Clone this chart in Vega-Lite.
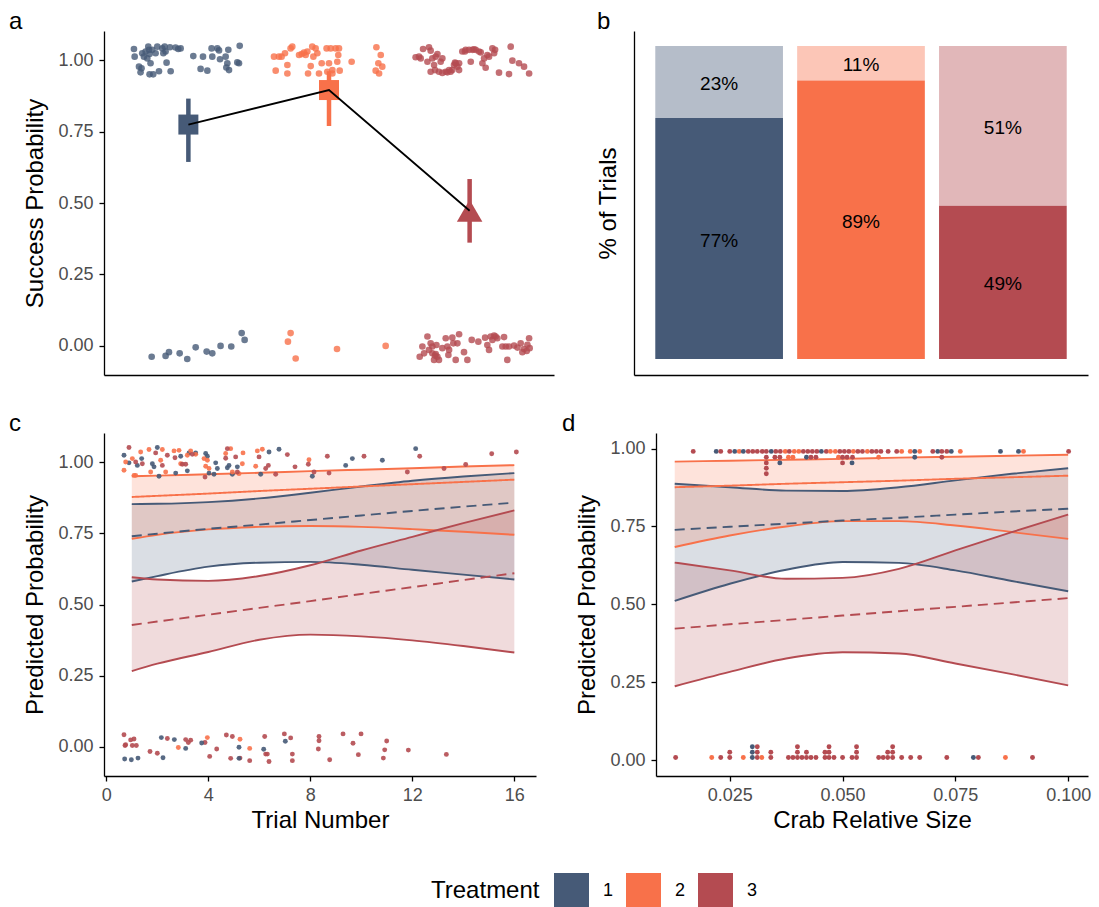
{
"$schema": "https://vega.github.io/schema/vega-lite/v6.json",
"padding": {"left": 9, "top": 10, "right": 5, "bottom": 0},
"config": {
  "font": "Liberation Sans",
  "view": {"stroke": null},
  "axis": {"grid": false, "domainColor": "black", "domainWidth": 1.3, "tickColor": "black", "tickWidth": 1.3, "tickSize": 5, "labelColor": "#4D4D4D", "labelFontSize": 18, "labelFont": "Liberation Sans", "labelPadding": 6, "titleFont": "Liberation Sans", "titleFontSize": 24, "titleFontWeight": "normal", "titleColor": "black", "titlePadding": 10},
  "axisX": {"titlePadding": 4, "labelPadding": 5},
  "title": {"fontSize": 24, "fontWeight": "normal", "anchor": "start", "frame": "group", "offset": 4, "dy": 7, "font": "Liberation Sans", "color": "black"}
},
"datasets": {
"pa": [
{"Treatment":1,"x":0.613,"y":1.040},{"Treatment":1,"x":0.618,"y":1.013},{"Treatment":1,"x":0.660,"y":0.958},{"Treatment":1,"x":0.667,"y":0.972},{"Treatment":1,"x":0.684,"y":1.013},{"Treatment":1,"x":0.696,"y":1.031},{"Treatment":1,"x":0.715,"y":1.048},{"Treatment":1,"x":0.720,"y":1.037},{"Treatment":1,"x":0.724,"y":1.022},{"Treatment":1,"x":0.731,"y":0.990},{"Treatment":1,"x":0.724,"y":0.951},{"Treatment":1,"x":0.750,"y":0.951},{"Treatment":1,"x":0.743,"y":1.037},{"Treatment":1,"x":0.791,"y":0.962},{"Treatment":1,"x":0.815,"y":1.042},{"Treatment":1,"x":0.822,"y":1.025},{"Treatment":1,"x":0.831,"y":1.048},{"Treatment":1,"x":0.845,"y":0.992},{"Treatment":1,"x":0.869,"y":1.046},{"Treatment":1,"x":0.874,"y":0.962},{"Treatment":1,"x":0.909,"y":1.045},{"Treatment":1,"x":0.928,"y":1.040},{"Treatment":1,"x":1.035,"y":1.015},{"Treatment":1,"x":1.087,"y":0.970},{"Treatment":1,"x":1.104,"y":1.013},{"Treatment":1,"x":1.135,"y":0.964},{"Treatment":1,"x":1.165,"y":1.042},{"Treatment":1,"x":1.170,"y":1.013},{"Treatment":1,"x":1.206,"y":1.042},{"Treatment":1,"x":1.225,"y":1.004},{"Treatment":1,"x":1.265,"y":1.013},{"Treatment":1,"x":1.277,"y":0.990},{"Treatment":1,"x":1.284,"y":1.037},{"Treatment":1,"x":1.289,"y":0.966},{"Treatment":1,"x":1.270,"y":0.975},{"Treatment":1,"x":1.348,"y":0.993},{"Treatment":1,"x":1.365,"y":1.051},{"Treatment":1,"x":1.360,"y":0.990},{"Treatment":1,"x":1.218,"y":1.035},{"Treatment":1,"x":0.767,"y":1.025},{"Treatment":1,"x":0.649,"y":0.978},{"Treatment":1,"x":0.672,"y":1.025},{"Treatment":1,"x":0.708,"y":1.007},{"Treatment":1,"x":0.838,"y":1.031},{"Treatment":1,"x":0.945,"y":1.042},{"Treatment":1,"x":0.779,"y":1.048},
{"Treatment":1,"x":0.739,"y":-0.039},{"Treatment":1,"x":0.838,"y":-0.036},{"Treatment":1,"x":0.862,"y":-0.023},{"Treatment":1,"x":0.938,"y":-0.027},{"Treatment":1,"x":0.992,"y":-0.047},{"Treatment":1,"x":1.052,"y":-0.006},{"Treatment":1,"x":1.130,"y":-0.021},{"Treatment":1,"x":1.170,"y":-0.027},{"Treatment":1,"x":1.229,"y":-0.001},{"Treatment":1,"x":1.305,"y":-0.003},{"Treatment":1,"x":1.379,"y":0.044},{"Treatment":1,"x":1.400,"y":0.020},
{"Treatment":2,"x":1.609,"y":1.013},{"Treatment":2,"x":1.621,"y":0.964},{"Treatment":2,"x":1.644,"y":1.013},{"Treatment":2,"x":1.663,"y":1.013},{"Treatment":2,"x":1.687,"y":1.025},{"Treatment":2,"x":1.704,"y":0.984},{"Treatment":2,"x":1.704,"y":0.954},{"Treatment":2,"x":1.727,"y":1.042},{"Treatment":2,"x":1.739,"y":1.048},{"Treatment":2,"x":1.806,"y":1.022},{"Treatment":2,"x":1.822,"y":1.027},{"Treatment":2,"x":1.834,"y":1.019},{"Treatment":2,"x":1.846,"y":1.031},{"Treatment":2,"x":1.851,"y":0.954},{"Treatment":2,"x":1.870,"y":0.980},{"Treatment":2,"x":1.881,"y":1.048},{"Treatment":2,"x":1.889,"y":1.013},{"Treatment":2,"x":1.917,"y":1.025},{"Treatment":2,"x":1.929,"y":0.954},{"Treatment":2,"x":1.948,"y":0.990},{"Treatment":2,"x":1.983,"y":1.042},{"Treatment":2,"x":1.988,"y":0.960},{"Treatment":2,"x":2.000,"y":0.990},{"Treatment":2,"x":2.012,"y":1.042},{"Treatment":2,"x":2.024,"y":0.954},{"Treatment":2,"x":2.047,"y":1.042},{"Treatment":2,"x":2.059,"y":0.995},{"Treatment":2,"x":2.066,"y":1.019},{"Treatment":2,"x":2.071,"y":1.042},{"Treatment":2,"x":2.076,"y":0.964},{"Treatment":2,"x":2.161,"y":0.995},{"Treatment":2,"x":2.337,"y":1.046},{"Treatment":2,"x":2.368,"y":1.019},{"Treatment":2,"x":2.351,"y":0.990},{"Treatment":2,"x":2.379,"y":0.978},{"Treatment":2,"x":2.332,"y":0.964},{"Treatment":2,"x":2.356,"y":0.954},{"Treatment":2,"x":2.024,"y":0.966},{"Treatment":2,"x":1.905,"y":1.042},{"Treatment":2,"x":1.787,"y":1.019},
{"Treatment":2,"x":1.727,"y":0.044},{"Treatment":2,"x":1.708,"y":0.014},{"Treatment":2,"x":1.763,"y":-0.045},{"Treatment":2,"x":2.057,"y":-0.012},{"Treatment":2,"x":2.403,"y":-0.001},
{"Treatment":3,"x":2.616,"y":1.011},{"Treatment":3,"x":2.652,"y":1.007},{"Treatment":3,"x":2.669,"y":1.040},{"Treatment":3,"x":2.711,"y":1.046},{"Treatment":3,"x":2.723,"y":1.034},{"Treatment":3,"x":2.700,"y":0.995},{"Treatment":3,"x":2.723,"y":0.960},{"Treatment":3,"x":2.747,"y":0.984},{"Treatment":3,"x":2.771,"y":1.022},{"Treatment":3,"x":2.782,"y":0.960},{"Treatment":3,"x":2.806,"y":1.007},{"Treatment":3,"x":2.830,"y":0.960},{"Treatment":3,"x":2.842,"y":0.958},{"Treatment":3,"x":2.877,"y":0.966},{"Treatment":3,"x":2.889,"y":0.984},{"Treatment":3,"x":2.901,"y":0.990},{"Treatment":3,"x":2.925,"y":0.990},{"Treatment":3,"x":2.925,"y":0.966},{"Treatment":3,"x":2.948,"y":1.031},{"Treatment":3,"x":2.972,"y":1.037},{"Treatment":3,"x":2.996,"y":1.037},{"Treatment":3,"x":3.008,"y":0.995},{"Treatment":3,"x":3.020,"y":1.037},{"Treatment":3,"x":3.043,"y":1.037},{"Treatment":3,"x":3.067,"y":1.031},{"Treatment":3,"x":3.091,"y":0.990},{"Treatment":3,"x":3.103,"y":1.007},{"Treatment":3,"x":3.114,"y":0.974},{"Treatment":3,"x":3.126,"y":1.019},{"Treatment":3,"x":3.162,"y":1.042},{"Treatment":3,"x":3.174,"y":1.025},{"Treatment":3,"x":3.209,"y":0.957},{"Treatment":3,"x":3.280,"y":0.952},{"Treatment":3,"x":3.292,"y":1.048},{"Treatment":3,"x":3.304,"y":0.999},{"Treatment":3,"x":3.351,"y":0.990},{"Treatment":3,"x":3.387,"y":0.978},{"Treatment":3,"x":3.423,"y":0.954},{"Treatment":3,"x":2.759,"y":1.013},{"Treatment":3,"x":2.854,"y":0.966},{"Treatment":3,"x":2.913,"y":0.978},{"Treatment":3,"x":3.031,"y":1.039},{"Treatment":3,"x":2.640,"y":1.013},{"Treatment":3,"x":2.735,"y":1.007},{"Treatment":3,"x":2.806,"y":0.956},{"Treatment":3,"x":3.079,"y":1.028},{"Treatment":3,"x":3.138,"y":1.013},{"Treatment":3,"x":2.754,"y":0.966},{"Treatment":3,"x":2.794,"y":0.995},{"Treatment":3,"x":2.865,"y":0.960},{"Treatment":3,"x":2.896,"y":0.992},{"Treatment":3,"x":2.967,"y":1.031},{"Treatment":3,"x":3.181,"y":1.037},
{"Treatment":3,"x":2.645,"y":-0.039},{"Treatment":3,"x":2.664,"y":-0.003},{"Treatment":3,"x":2.700,"y":0.032},{"Treatment":3,"x":2.723,"y":0.008},{"Treatment":3,"x":2.735,"y":-0.027},{"Treatment":3,"x":2.747,"y":-0.050},{"Treatment":3,"x":2.759,"y":-0.030},{"Treatment":3,"x":2.771,"y":-0.039},{"Treatment":3,"x":2.782,"y":-0.050},{"Treatment":3,"x":2.830,"y":0.026},{"Treatment":3,"x":2.842,"y":-0.003},{"Treatment":3,"x":2.849,"y":-0.033},{"Treatment":3,"x":2.877,"y":0.028},{"Treatment":3,"x":2.901,"y":-0.050},{"Treatment":3,"x":2.913,"y":0.008},{"Treatment":3,"x":2.925,"y":0.040},{"Treatment":3,"x":2.960,"y":-0.023},{"Treatment":3,"x":2.984,"y":-0.050},{"Treatment":3,"x":3.062,"y":0.014},{"Treatment":3,"x":3.110,"y":0.028},{"Treatment":3,"x":3.126,"y":0.002},{"Treatment":3,"x":3.138,"y":-0.015},{"Treatment":3,"x":3.150,"y":0.032},{"Treatment":3,"x":3.162,"y":0.020},{"Treatment":3,"x":3.174,"y":0.035},{"Treatment":3,"x":3.185,"y":0.032},{"Treatment":3,"x":3.197,"y":0.026},{"Treatment":3,"x":3.245,"y":0.030},{"Treatment":3,"x":3.257,"y":-0.003},{"Treatment":3,"x":3.268,"y":-0.050},{"Treatment":3,"x":3.280,"y":-0.003},{"Treatment":3,"x":3.316,"y":0.000},{"Treatment":3,"x":3.363,"y":0.008},{"Treatment":3,"x":3.375,"y":-0.023},{"Treatment":3,"x":3.387,"y":-0.012},{"Treatment":3,"x":3.411,"y":0.003},{"Treatment":3,"x":3.423,"y":0.026},{"Treatment":3,"x":3.427,"y":-0.009},{"Treatment":3,"x":2.711,"y":-0.015},{"Treatment":3,"x":2.735,"y":-0.003},{"Treatment":3,"x":2.754,"y":-0.035},{"Treatment":3,"x":2.806,"y":-0.009},{"Treatment":3,"x":2.854,"y":-0.015},{"Treatment":3,"x":2.884,"y":0.008},{"Treatment":3,"x":3.015,"y":0.020},{"Treatment":3,"x":3.233,"y":-0.003},{"Treatment":3,"x":3.340,"y":-0.007},{"Treatment":3,"x":3.406,"y":-0.019},{"Treatment":3,"x":2.676,"y":-0.027},{"Treatment":3,"x":2.764,"y":0.002}
],
"est": [
{"Treatment":1,"x":1,"est":0.775,"lo":0.644,"hi":0.866},
{"Treatment":2,"x":2,"est":0.896,"lo":0.770,"hi":0.962},
{"Treatment":3,"x":3,"est":0.473,"lo":0.361,"hi":0.584}
],
"pb": [
{"Treatment":1,"outcome":"Success","ord":1,"pct":0.77,"lab":"77%"},
{"Treatment":1,"outcome":"Failure","ord":2,"pct":0.23,"lab":"23%"},
{"Treatment":2,"outcome":"Success","ord":1,"pct":0.89,"lab":"89%"},
{"Treatment":2,"outcome":"Failure","ord":2,"pct":0.11,"lab":"11%"},
{"Treatment":3,"outcome":"Success","ord":1,"pct":0.49,"lab":"49%"},
{"Treatment":3,"outcome":"Failure","ord":2,"pct":0.51,"lab":"51%"}
],
"cc": [
{"Treatment":1,"x":1,"lo":0.581,"mean":0.740,"hi":0.853},{"Treatment":1,"x":2,"lo":0.600,"mean":0.749,"hi":0.854},{"Treatment":1,"x":4,"lo":0.633,"mean":0.766,"hi":0.860},{"Treatment":1,"x":6,"lo":0.647,"mean":0.781,"hi":0.873},{"Treatment":1,"x":8,"lo":0.650,"mean":0.797,"hi":0.893},{"Treatment":1,"x":10,"lo":0.640,"mean":0.813,"hi":0.915},{"Treatment":1,"x":12,"lo":0.622,"mean":0.829,"hi":0.935},{"Treatment":1,"x":14,"lo":0.605,"mean":0.844,"hi":0.950},{"Treatment":1,"x":16,"lo":0.588,"mean":0.858,"hi":0.962},
{"Treatment":2,"x":1,"lo":0.731,"mean":0.878,"hi":0.951},{"Treatment":2,"x":2,"lo":0.745,"mean":0.882,"hi":0.953},{"Treatment":2,"x":4,"lo":0.764,"mean":0.890,"hi":0.958},{"Treatment":2,"x":6,"lo":0.773,"mean":0.899,"hi":0.963},{"Treatment":2,"x":8,"lo":0.776,"mean":0.907,"hi":0.969},{"Treatment":2,"x":10,"lo":0.773,"mean":0.915,"hi":0.974},{"Treatment":2,"x":12,"lo":0.765,"mean":0.923,"hi":0.979},{"Treatment":2,"x":14,"lo":0.756,"mean":0.931,"hi":0.985},{"Treatment":2,"x":16,"lo":0.745,"mean":0.939,"hi":0.990},
{"Treatment":3,"x":1,"lo":0.266,"mean":0.428,"hi":0.596},{"Treatment":3,"x":2,"lo":0.292,"mean":0.440,"hi":0.588},{"Treatment":3,"x":4,"lo":0.333,"mean":0.464,"hi":0.583},{"Treatment":3,"x":6,"lo":0.376,"mean":0.488,"hi":0.600},{"Treatment":3,"x":8,"lo":0.394,"mean":0.512,"hi":0.638},{"Treatment":3,"x":10,"lo":0.388,"mean":0.537,"hi":0.690},{"Treatment":3,"x":12,"lo":0.374,"mean":0.561,"hi":0.738},{"Treatment":3,"x":14,"lo":0.354,"mean":0.586,"hi":0.786},{"Treatment":3,"x":16,"lo":0.331,"mean":0.610,"hi":0.831}
],
"pc": [
{"Treatment":1,"x":0.694,"y":1.025},{"Treatment":1,"x":0.890,"y":0.998},{"Treatment":1,"x":1.217,"y":0.989},{"Treatment":1,"x":1.387,"y":1.013},{"Treatment":1,"x":1.806,"y":0.995},{"Treatment":1,"x":2.001,"y":1.052},{"Treatment":1,"x":1.871,"y":0.984},{"Treatment":1,"x":2.067,"y":0.951},{"Treatment":1,"x":2.721,"y":0.962},{"Treatment":1,"x":2.917,"y":1.021},{"Treatment":1,"x":3.178,"y":0.970},{"Treatment":1,"x":3.243,"y":1.033},{"Treatment":1,"x":3.505,"y":1.033},{"Treatment":1,"x":3.897,"y":1.031},{"Treatment":1,"x":3.963,"y":1.021},{"Treatment":1,"x":4.028,"y":0.962},{"Treatment":1,"x":4.224,"y":0.958},{"Treatment":1,"x":4.289,"y":0.998},{"Treatment":1,"x":4.355,"y":0.978},{"Treatment":1,"x":4.747,"y":0.981},{"Treatment":1,"x":4.812,"y":0.989},{"Treatment":1,"x":4.943,"y":0.958},{"Treatment":1,"x":5.139,"y":0.984},{"Treatment":1,"x":6.054,"y":0.958},{"Treatment":1,"x":6.381,"y":1.036},{"Treatment":1,"x":6.773,"y":1.046},{"Treatment":1,"x":8.080,"y":0.951},{"Treatment":1,"x":9.387,"y":0.989},{"Treatment":1,"x":9.649,"y":1.013},{"Treatment":1,"x":10.825,"y":1.007},{"Treatment":1,"x":12.132,"y":1.048},
{"Treatment":2,"x":0.694,"y":0.972},{"Treatment":2,"x":0.760,"y":1.001},{"Treatment":2,"x":1.021,"y":1.013},{"Treatment":2,"x":1.087,"y":0.954},{"Treatment":2,"x":1.152,"y":0.954},{"Treatment":2,"x":1.348,"y":1.036},{"Treatment":2,"x":1.675,"y":1.045},{"Treatment":2,"x":1.740,"y":0.966},{"Treatment":2,"x":2.132,"y":1.007},{"Treatment":2,"x":2.198,"y":1.045},{"Treatment":2,"x":2.328,"y":0.966},{"Treatment":2,"x":2.655,"y":1.040},{"Treatment":2,"x":2.851,"y":1.042},{"Treatment":2,"x":2.917,"y":0.995},{"Treatment":2,"x":3.178,"y":1.025},{"Treatment":2,"x":3.309,"y":1.040},{"Treatment":2,"x":3.505,"y":1.028},{"Treatment":2,"x":3.832,"y":1.013},{"Treatment":2,"x":3.897,"y":0.986},{"Treatment":2,"x":3.963,"y":1.007},{"Treatment":2,"x":4.028,"y":0.978},{"Treatment":2,"x":4.681,"y":1.031},{"Treatment":2,"x":4.877,"y":1.048},{"Treatment":2,"x":4.943,"y":0.966},{"Treatment":2,"x":5.204,"y":0.960},{"Treatment":2,"x":5.335,"y":0.995},{"Treatment":2,"x":5.361,"y":1.033},{"Treatment":2,"x":5.858,"y":0.986},{"Treatment":2,"x":5.923,"y":1.040},{"Treatment":2,"x":6.119,"y":1.046},{"Treatment":2,"x":7.949,"y":1.009},
{"Treatment":3,"x":0.890,"y":1.052},{"Treatment":3,"x":1.152,"y":1.001},{"Treatment":3,"x":1.413,"y":0.995},{"Treatment":3,"x":1.936,"y":1.033},{"Treatment":3,"x":2.198,"y":0.989},{"Treatment":3,"x":2.394,"y":1.025},{"Treatment":3,"x":2.694,"y":1.016},{"Treatment":3,"x":2.982,"y":0.993},{"Treatment":3,"x":3.113,"y":0.993},{"Treatment":3,"x":3.374,"y":1.028},{"Treatment":3,"x":3.871,"y":0.948},{"Treatment":3,"x":4.681,"y":1.014},{"Treatment":3,"x":4.747,"y":1.048},{"Treatment":3,"x":5.073,"y":1.019},{"Treatment":3,"x":5.139,"y":0.966},{"Treatment":3,"x":5.989,"y":1.019},{"Treatment":3,"x":6.250,"y":0.978},{"Treatment":3,"x":6.355,"y":0.989},{"Treatment":3,"x":6.642,"y":0.958},{"Treatment":3,"x":7.100,"y":1.027},{"Treatment":3,"x":7.400,"y":0.984},{"Treatment":3,"x":7.923,"y":0.993},{"Treatment":3,"x":8.146,"y":0.966},{"Treatment":3,"x":8.668,"y":1.021},{"Treatment":3,"x":8.734,"y":0.962},{"Treatment":3,"x":10.106,"y":1.021},{"Treatment":3,"x":11.805,"y":0.966},{"Treatment":3,"x":12.289,"y":1.021},{"Treatment":3,"x":13.243,"y":0.978},{"Treatment":3,"x":14.093,"y":0.992},{"Treatment":3,"x":15.113,"y":1.030},{"Treatment":3,"x":16.080,"y":1.036},
{"Treatment":3,"x":0.694,"y":0.042},{"Treatment":3,"x":0.734,"y":0.004},{"Treatment":3,"x":0.760,"y":0.007},{"Treatment":3,"x":0.956,"y":0.024},{"Treatment":3,"x":1.087,"y":0.027},{"Treatment":3,"x":1.021,"y":0.004},{"Treatment":3,"x":1.178,"y":0.004},{"Treatment":3,"x":1.714,"y":-0.017},{"Treatment":3,"x":2.001,"y":-0.023},{"Treatment":3,"x":2.394,"y":0.029},{"Treatment":3,"x":3.113,"y":0.025},{"Treatment":3,"x":3.217,"y":0.015},{"Treatment":3,"x":3.309,"y":0.023},{"Treatment":3,"x":3.871,"y":0.015},{"Treatment":3,"x":4.054,"y":-0.034},{"Treatment":3,"x":4.329,"y":-0.008},{"Treatment":3,"x":4.708,"y":0.041},{"Treatment":3,"x":4.877,"y":-0.041},{"Treatment":3,"x":4.943,"y":0.036},{"Treatment":3,"x":5.243,"y":-0.040},{"Treatment":3,"x":5.623,"y":-0.049},{"Treatment":3,"x":6.211,"y":0.036},{"Treatment":3,"x":6.250,"y":-0.026},{"Treatment":3,"x":6.315,"y":-0.026},{"Treatment":3,"x":6.381,"y":-0.052},{"Treatment":3,"x":6.982,"y":0.045},{"Treatment":3,"x":7.230,"y":0.031},{"Treatment":3,"x":7.296,"y":-0.026},{"Treatment":3,"x":7.296,"y":-0.049},{"Treatment":3,"x":8.315,"y":-0.008},{"Treatment":3,"x":8.341,"y":0.036},{"Treatment":3,"x":8.341,"y":0.021},{"Treatment":3,"x":8.760,"y":-0.046},{"Treatment":3,"x":9.283,"y":0.045},{"Treatment":3,"x":9.675,"y":0.012},{"Treatment":3,"x":9.884,"y":-0.028},{"Treatment":3,"x":9.989,"y":0.045},{"Treatment":3,"x":10.864,"y":-0.040},{"Treatment":3,"x":10.917,"y":-0.011},{"Treatment":3,"x":10.995,"y":0.020},{"Treatment":3,"x":11.845,"y":-0.012},{"Treatment":3,"x":13.335,"y":-0.027},
{"Treatment":1,"x":0.721,"y":-0.043},{"Treatment":1,"x":0.982,"y":-0.046},{"Treatment":1,"x":1.243,"y":-0.040},{"Treatment":1,"x":2.158,"y":0.032},{"Treatment":1,"x":2.224,"y":-0.039},{"Treatment":1,"x":2.668,"y":0.025},{"Treatment":1,"x":3.113,"y":-0.006},{"Treatment":1,"x":3.740,"y":0.013},{"Treatment":1,"x":5.204,"y":-0.002},{"Treatment":1,"x":5.204,"y":-0.041},{"Treatment":1,"x":6.172,"y":-0.009},{"Treatment":1,"x":7.021,"y":0.019},
{"Treatment":2,"x":2.825,"y":-0.003},{"Treatment":2,"x":3.963,"y":0.032},{"Treatment":2,"x":5.243,"y":0.026},{"Treatment":2,"x":5.623,"y":-0.006}
],
"cd": [
{"Treatment":1,"x":0.0128,"lo":0.511,"mean":0.739,"hi":0.887},{"Treatment":1,"x":0.025,"lo":0.566,"mean":0.749,"hi":0.876},{"Treatment":1,"x":0.0375,"lo":0.611,"mean":0.759,"hi":0.865},{"Treatment":1,"x":0.05,"lo":0.636,"mean":0.769,"hi":0.864},{"Treatment":1,"x":0.0625,"lo":0.633,"mean":0.778,"hi":0.876},{"Treatment":1,"x":0.075,"lo":0.609,"mean":0.788,"hi":0.898},{"Treatment":1,"x":0.0875,"lo":0.575,"mean":0.798,"hi":0.919},{"Treatment":1,"x":0.1,"lo":0.542,"mean":0.807,"hi":0.937},
{"Treatment":2,"x":0.0128,"lo":0.684,"mean":0.876,"hi":0.958},{"Treatment":2,"x":0.025,"lo":0.721,"mean":0.881,"hi":0.961},{"Treatment":2,"x":0.0375,"lo":0.750,"mean":0.887,"hi":0.964},{"Treatment":2,"x":0.05,"lo":0.767,"mean":0.892,"hi":0.967},{"Treatment":2,"x":0.0625,"lo":0.767,"mean":0.897,"hi":0.971},{"Treatment":2,"x":0.075,"lo":0.753,"mean":0.903,"hi":0.974},{"Treatment":2,"x":0.0875,"lo":0.732,"mean":0.908,"hi":0.977},{"Treatment":2,"x":0.1,"lo":0.710,"mean":0.913,"hi":0.980},
{"Treatment":3,"x":0.0128,"lo":0.237,"mean":0.422,"hi":0.634},{"Treatment":3,"x":0.025,"lo":0.283,"mean":0.436,"hi":0.609},{"Treatment":3,"x":0.0375,"lo":0.326,"mean":0.450,"hi":0.582},{"Treatment":3,"x":0.05,"lo":0.346,"mean":0.464,"hi":0.585},{"Treatment":3,"x":0.0625,"lo":0.342,"mean":0.478,"hi":0.614},{"Treatment":3,"x":0.075,"lo":0.310,"mean":0.492,"hi":0.673},{"Treatment":3,"x":0.0875,"lo":0.276,"mean":0.506,"hi":0.732},{"Treatment":3,"x":0.1,"lo":0.240,"mean":0.520,"hi":0.788}
],
"pd": [
{"Treatment":3,"x":0.0169,"y":0.991},{"Treatment":1,"x":0.0220,"y":0.991},{"Treatment":3,"x":0.0230,"y":0.991},{"Treatment":3,"x":0.0250,"y":0.991},{"Treatment":1,"x":0.0261,"y":0.991},{"Treatment":2,"x":0.0271,"y":0.991},{"Treatment":1,"x":0.0280,"y":0.991},{"Treatment":3,"x":0.0291,"y":0.991},{"Treatment":3,"x":0.0301,"y":0.991},{"Treatment":3,"x":0.0311,"y":0.991},{"Treatment":3,"x":0.0322,"y":0.991},{"Treatment":3,"x":0.0331,"y":0.991},{"Treatment":1,"x":0.0342,"y":0.991},{"Treatment":3,"x":0.0352,"y":0.991},{"Treatment":3,"x":0.0362,"y":0.991},{"Treatment":2,"x":0.0373,"y":0.991},{"Treatment":3,"x":0.0382,"y":0.991},{"Treatment":2,"x":0.0393,"y":0.991},{"Treatment":2,"x":0.0403,"y":0.991},{"Treatment":3,"x":0.0413,"y":0.991},{"Treatment":3,"x":0.0423,"y":0.991},{"Treatment":3,"x":0.0433,"y":0.991},{"Treatment":3,"x":0.0443,"y":0.991},{"Treatment":1,"x":0.0453,"y":0.991},{"Treatment":3,"x":0.0464,"y":0.991},{"Treatment":2,"x":0.0473,"y":0.991},{"Treatment":2,"x":0.0484,"y":0.991},{"Treatment":3,"x":0.0494,"y":0.991},{"Treatment":3,"x":0.0504,"y":0.991},{"Treatment":3,"x":0.0514,"y":0.991},{"Treatment":2,"x":0.0524,"y":0.991},{"Treatment":3,"x":0.0534,"y":0.991},{"Treatment":3,"x":0.0544,"y":0.991},{"Treatment":2,"x":0.0555,"y":0.991},{"Treatment":3,"x":0.0565,"y":0.991},{"Treatment":3,"x":0.0575,"y":0.991},{"Treatment":3,"x":0.0585,"y":0.991},{"Treatment":3,"x":0.0601,"y":0.991},{"Treatment":3,"x":0.0620,"y":0.991},{"Treatment":2,"x":0.0631,"y":0.991},{"Treatment":2,"x":0.0650,"y":0.991},{"Treatment":1,"x":0.0660,"y":0.991},{"Treatment":2,"x":0.0671,"y":0.991},{"Treatment":3,"x":0.0700,"y":0.991},{"Treatment":1,"x":0.0711,"y":0.991},{"Treatment":3,"x":0.0720,"y":0.991},{"Treatment":3,"x":0.0731,"y":0.991},{"Treatment":1,"x":0.0741,"y":0.991},{"Treatment":2,"x":0.0761,"y":0.991},{"Treatment":1,"x":0.0850,"y":0.991},{"Treatment":1,"x":0.0890,"y":0.991},{"Treatment":2,"x":0.0901,"y":0.991},{"Treatment":3,"x":0.1001,"y":0.991},
{"Treatment":3,"x":0.0331,"y":0.972},{"Treatment":3,"x":0.0350,"y":0.972},{"Treatment":3,"x":0.0361,"y":0.972},{"Treatment":2,"x":0.0380,"y":0.972},{"Treatment":2,"x":0.0390,"y":0.972},{"Treatment":1,"x":0.0420,"y":0.972},{"Treatment":3,"x":0.0430,"y":0.972},{"Treatment":3,"x":0.0441,"y":0.972},{"Treatment":2,"x":0.0491,"y":0.972},{"Treatment":3,"x":0.0500,"y":0.972},{"Treatment":3,"x":0.0510,"y":0.972},{"Treatment":3,"x":0.0522,"y":0.972},{"Treatment":2,"x":0.0580,"y":0.972},{"Treatment":1,"x":0.0660,"y":0.972},{"Treatment":3,"x":0.0720,"y":0.972},
{"Treatment":3,"x":0.0331,"y":0.954},{"Treatment":1,"x":0.0361,"y":0.954},{"Treatment":3,"x":0.0500,"y":0.954},{"Treatment":1,"x":0.0521,"y":0.954},
{"Treatment":3,"x":0.0331,"y":0.937},{"Treatment":3,"x":0.0331,"y":0.919},
{"Treatment":3,"x":0.0130,"y":0.0085},{"Treatment":2,"x":0.0210,"y":0.0085},{"Treatment":3,"x":0.0230,"y":0.0085},{"Treatment":3,"x":0.0250,"y":0.0085},{"Treatment":2,"x":0.0280,"y":0.0085},{"Treatment":1,"x":0.0300,"y":0.0085},{"Treatment":3,"x":0.0311,"y":0.0085},{"Treatment":2,"x":0.0321,"y":0.0085},{"Treatment":3,"x":0.0341,"y":0.0085},{"Treatment":3,"x":0.0380,"y":0.0085},{"Treatment":3,"x":0.0390,"y":0.0085},{"Treatment":3,"x":0.0400,"y":0.0085},{"Treatment":3,"x":0.0410,"y":0.0085},{"Treatment":3,"x":0.0420,"y":0.0085},{"Treatment":3,"x":0.0430,"y":0.0085},{"Treatment":3,"x":0.0441,"y":0.0085},{"Treatment":3,"x":0.0461,"y":0.0085},{"Treatment":3,"x":0.0470,"y":0.0085},{"Treatment":3,"x":0.0481,"y":0.0085},{"Treatment":3,"x":0.0500,"y":0.0085},{"Treatment":3,"x":0.0521,"y":0.0085},{"Treatment":3,"x":0.0531,"y":0.0085},{"Treatment":3,"x":0.0580,"y":0.0085},{"Treatment":3,"x":0.0590,"y":0.0085},{"Treatment":3,"x":0.0600,"y":0.0085},{"Treatment":3,"x":0.0611,"y":0.0085},{"Treatment":3,"x":0.0631,"y":0.0085},{"Treatment":3,"x":0.0651,"y":0.0085},{"Treatment":3,"x":0.0671,"y":0.0085},{"Treatment":3,"x":0.0731,"y":0.0085},{"Treatment":1,"x":0.0790,"y":0.0085},{"Treatment":3,"x":0.0801,"y":0.0085},{"Treatment":2,"x":0.0861,"y":0.0085},{"Treatment":3,"x":0.0921,"y":0.0085},
{"Treatment":3,"x":0.0250,"y":0.025},{"Treatment":1,"x":0.0300,"y":0.025},{"Treatment":3,"x":0.0311,"y":0.025},{"Treatment":3,"x":0.0341,"y":0.025},{"Treatment":3,"x":0.0400,"y":0.025},{"Treatment":3,"x":0.0420,"y":0.025},{"Treatment":3,"x":0.0461,"y":0.025},{"Treatment":3,"x":0.0470,"y":0.025},{"Treatment":3,"x":0.0531,"y":0.025},{"Treatment":3,"x":0.0600,"y":0.025},{"Treatment":3,"x":0.0611,"y":0.025},
{"Treatment":1,"x":0.0300,"y":0.043},{"Treatment":3,"x":0.0311,"y":0.043},{"Treatment":3,"x":0.0400,"y":0.043},{"Treatment":3,"x":0.0470,"y":0.043},{"Treatment":3,"x":0.0531,"y":0.043},{"Treatment":3,"x":0.0611,"y":0.043}
]
},
"spacing": 37,
"vconcat": [
{
"bounds": "flush",
"spacing": 80,
"hconcat": [
{
"width": 450, "height": 344,
"title": {"text": "a", "dx": -95},
"layer": [
{"data": {"name": "pa"}, "mark": {"type": "circle", "size": 44, "opacity": 0.8},
 "encoding": {
  "x": {"field": "x", "type": "quantitative", "scale": {"domain": [0.4, 3.6], "nice": false, "zero": false}, "axis": {"labels": false, "ticks": false, "title": null}},
  "y": {"field": "y", "type": "quantitative", "scale": {"domain": [-0.103, 1.103], "nice": false, "zero": false}, "axis": {"values": [0, 0.25, 0.5, 0.75, 1], "format": ".2f", "title": "Success Probability"}},
  "color": {"field": "Treatment", "type": "nominal", "scale": {"domain": [1, 2, 3], "range": ["#465A77", "#F8714A", "#B44B51"]},
    "legend": {"orient": "none", "legendX": 327, "legendY": 842, "direction": "horizontal", "titleOrient": "left", "title": "Treatment", "symbolType": "square", "symbolSize": 1225, "symbolStrokeWidth": 0, "symbolOpacity": 1, "labelFontSize": 18, "labelColor": "black", "labelFont": "Liberation Sans", "titleFont": "Liberation Sans", "titleFontSize": 24, "titleFontWeight": "normal", "titleColor": "black", "titlePadding": 14, "labelOffset": 14, "columnPadding": 12}}
 }},
{"data": {"name": "est"}, "mark": {"type": "rule", "strokeWidth": 4.5},
 "encoding": {
  "x": {"field": "x", "type": "quantitative"},
  "y": {"field": "lo", "type": "quantitative"},
  "y2": {"field": "hi"},
  "color": {"field": "Treatment", "type": "nominal", "scale": {"domain": [1, 2, 3], "range": ["#465A77", "#F8714A", "#B44B51"]}}
 }},
{"data": {"name": "est"}, "transform": [{"filter": "datum.Treatment < 3"}], "mark": {"type": "square", "size": 400, "opacity": 1},
 "encoding": {
  "x": {"field": "x", "type": "quantitative"},
  "y": {"field": "est", "type": "quantitative"},
  "color": {"field": "Treatment", "type": "nominal", "scale": {"domain": [1, 2, 3], "range": ["#465A77", "#F8714A", "#B44B51"]}}
 }},
{"data": {"name": "est"}, "transform": [{"filter": "datum.Treatment == 3"}], "mark": {"type": "point", "shape": "triangle-up", "filled": true, "size": 650, "opacity": 1},
 "encoding": {
  "x": {"field": "x", "type": "quantitative"},
  "y": {"field": "est", "type": "quantitative"},
  "color": {"field": "Treatment", "type": "nominal", "scale": {"domain": [1, 2, 3], "range": ["#465A77", "#F8714A", "#B44B51"]}}
 }},
{"data": {"name": "est"}, "mark": {"type": "line", "color": "black", "strokeWidth": 1.8},
 "encoding": {
  "x": {"field": "x", "type": "quantitative"},
  "y": {"field": "est", "type": "quantitative"}
 }}
]
},
{
"width": 454, "height": 344,
"title": {"text": "b", "dx": -37},
"data": {"name": "pb"},
"transform": [
 {"stack": "pct", "groupby": ["Treatment"], "sort": [{"field": "ord", "order": "ascending"}], "as": ["y0", "y1"]},
 {"calculate": "(datum.y0 + datum.y1) / 2", "as": "mid"}
],
"encoding": {
 "x": {"field": "Treatment", "type": "nominal", "scale": {"paddingInner": 0.1, "paddingOuter": 0.15}, "axis": {"labels": false, "ticks": false, "title": null}}
},
"layer": [
{"mark": {"type": "bar"},
 "encoding": {
  "y": {"field": "y0", "type": "quantitative", "scale": {"domain": [-0.051, 1.048], "nice": false, "zero": false}, "axis": {"labels": false, "ticks": false, "title": "% of Trials", "titlePadding": 14}},
  "y2": {"field": "y1"},
  "color": {"field": "Treatment", "type": "nominal", "scale": {"domain": [1, 2, 3], "range": ["#465A77", "#F8714A", "#B44B51"]}},
  "opacity": {"field": "outcome", "type": "nominal", "scale": {"domain": ["Success", "Failure"], "range": [1, 0.4]}, "legend": null}
 }},
{"mark": {"type": "text", "fontSize": 19, "color": "black", "font": "Liberation Sans", "dy": 2},
 "encoding": {
  "y": {"field": "mid", "type": "quantitative"},
  "text": {"field": "lab"}
 }}
]
}
]
},
{
"bounds": "flush",
"spacing": 120,
"hconcat": [
{
"width": 432, "height": 343,
"title": {"text": "c", "dx": -95},
"layer": [
{"data": {"name": "cc"}, "mark": {"type": "area", "opacity": 0.2, "interpolate": "monotone"},
 "encoding": {
  "x": {"field": "x", "type": "quantitative", "scale": {"domain": [-0.09, 16.85], "nice": false, "zero": false}, "axis": {"values": [0, 4, 8, 12, 16], "title": "Trial Number"}},
  "y": {"field": "lo", "type": "quantitative", "scale": {"domain": [-0.103, 1.103], "nice": false, "zero": false}, "axis": {"values": [0, 0.25, 0.5, 0.75, 1], "format": ".2f", "title": "Predicted Probability"}},
  "y2": {"field": "hi"},
  "color": {"field": "Treatment", "type": "nominal", "scale": {"domain": [1, 2, 3], "range": ["#465A77", "#F8714A", "#B44B51"]}}
 }},
{"data": {"name": "cc"}, "mark": {"type": "line", "strokeWidth": 1.9, "interpolate": "monotone"},
 "encoding": {
  "x": {"field": "x", "type": "quantitative"},
  "y": {"field": "lo", "type": "quantitative"},
  "color": {"field": "Treatment", "type": "nominal", "scale": {"domain": [1, 2, 3], "range": ["#465A77", "#F8714A", "#B44B51"]}}
 }},
{"data": {"name": "cc"}, "mark": {"type": "line", "strokeWidth": 1.9, "interpolate": "monotone"},
 "encoding": {
  "x": {"field": "x", "type": "quantitative"},
  "y": {"field": "hi", "type": "quantitative"},
  "color": {"field": "Treatment", "type": "nominal", "scale": {"domain": [1, 2, 3], "range": ["#465A77", "#F8714A", "#B44B51"]}}
 }},
{"data": {"name": "cc"}, "mark": {"type": "line", "strokeWidth": 1.9, "interpolate": "monotone"},
 "encoding": {
  "x": {"field": "x", "type": "quantitative"},
  "y": {"field": "mean", "type": "quantitative"},
  "color": {"field": "Treatment", "type": "nominal", "scale": {"domain": [1, 2, 3], "range": ["#465A77", "#F8714A", "#B44B51"]}},
  "strokeDash": {"field": "Treatment", "type": "nominal", "scale": {"domain": [1, 2, 3], "range": [[10, 6], [1, 0], [10, 6]]}, "legend": null}
 }},
{"data": {"name": "pc"}, "mark": {"type": "circle", "size": 24, "opacity": 0.9},
 "encoding": {
  "x": {"field": "x", "type": "quantitative"},
  "y": {"field": "y", "type": "quantitative"},
  "color": {"field": "Treatment", "type": "nominal", "scale": {"domain": [1, 2, 3], "range": ["#465A77", "#F8714A", "#B44B51"]}}
 }}
]
},
{
"width": 432, "height": 343,
"title": {"text": "d", "dx": -94},
"layer": [
{"data": {"name": "cd"}, "mark": {"type": "area", "opacity": 0.2, "interpolate": "monotone"},
 "encoding": {
  "x": {"field": "x", "type": "quantitative", "scale": {"domain": [0.00865, 0.1044], "nice": false, "zero": false}, "axis": {"values": [0.025, 0.05, 0.075, 0.1], "format": ".3f", "title": "Crab Relative Size"}},
  "y": {"field": "lo", "type": "quantitative", "scale": {"domain": [-0.051, 1.05], "nice": false, "zero": false}, "axis": {"values": [0, 0.25, 0.5, 0.75, 1], "format": ".2f", "title": "Predicted Probability"}},
  "y2": {"field": "hi"},
  "color": {"field": "Treatment", "type": "nominal", "scale": {"domain": [1, 2, 3], "range": ["#465A77", "#F8714A", "#B44B51"]}}
 }},
{"data": {"name": "cd"}, "mark": {"type": "line", "strokeWidth": 1.9, "interpolate": "monotone"},
 "encoding": {
  "x": {"field": "x", "type": "quantitative"},
  "y": {"field": "lo", "type": "quantitative"},
  "color": {"field": "Treatment", "type": "nominal", "scale": {"domain": [1, 2, 3], "range": ["#465A77", "#F8714A", "#B44B51"]}}
 }},
{"data": {"name": "cd"}, "mark": {"type": "line", "strokeWidth": 1.9, "interpolate": "monotone"},
 "encoding": {
  "x": {"field": "x", "type": "quantitative"},
  "y": {"field": "hi", "type": "quantitative"},
  "color": {"field": "Treatment", "type": "nominal", "scale": {"domain": [1, 2, 3], "range": ["#465A77", "#F8714A", "#B44B51"]}}
 }},
{"data": {"name": "cd"}, "mark": {"type": "line", "strokeWidth": 1.9, "interpolate": "monotone"},
 "encoding": {
  "x": {"field": "x", "type": "quantitative"},
  "y": {"field": "mean", "type": "quantitative"},
  "color": {"field": "Treatment", "type": "nominal", "scale": {"domain": [1, 2, 3], "range": ["#465A77", "#F8714A", "#B44B51"]}},
  "strokeDash": {"field": "Treatment", "type": "nominal", "scale": {"domain": [1, 2, 3], "range": [[10, 6], [1, 0], [10, 6]]}, "legend": null}
 }},
{"data": {"name": "pd"}, "mark": {"type": "circle", "size": 24, "opacity": 1},
 "encoding": {
  "x": {"field": "x", "type": "quantitative"},
  "y": {"field": "y", "type": "quantitative"},
  "color": {"field": "Treatment", "type": "nominal", "scale": {"domain": [1, 2, 3], "range": ["#465A77", "#F8714A", "#B44B51"]}}
 }}
]
}
]
}
]
}
